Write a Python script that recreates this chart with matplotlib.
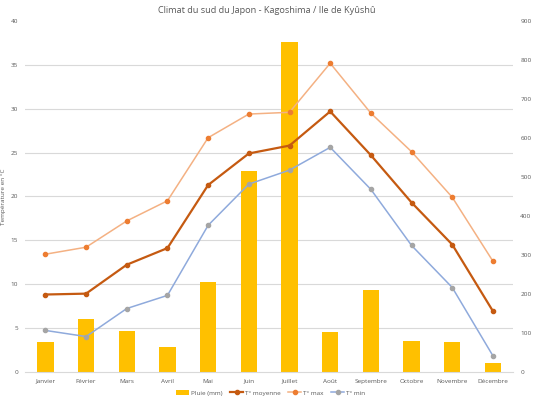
import matplotlib
matplotlib.use("Agg")
import matplotlib.pyplot as plt
import numpy as np

plt.rcParams['font.family'] = ['Open Sans', 'DejaVu Sans']

months = ["Janvier", "Février", "Mars", "Avril", "Mai", "Juin", "Juillet",
          "Août", "Septembre", "Octobre", "Novembre", "Décembre"]
rain = [76, 135, 104, 63, 230, 515, 846, 102, 210, 79, 76, 21]
t_moy = [8.8, 8.9, 12.2, 14.1, 21.3, 24.9, 25.8, 29.7, 24.7, 19.3, 14.5, 6.9]
t_max = [13.4, 14.2, 17.2, 19.5, 26.7, 29.4, 29.6, 35.2, 29.5, 25.1, 19.9, 12.6]
t_min = [4.7, 4.0, 7.2, 8.7, 16.7, 21.4, 23.0, 25.6, 20.8, 14.4, 9.6, 1.8]

fig = plt.figure(figsize=(5.33, 4.0), dpi=100)
ax = fig.add_axes([0.047, 0.071, 0.916, 0.876])
ax2 = ax.twinx()

x = np.arange(len(months))
ax2.bar(x, rain, width=0.4, color="#FFC000", label="Pluie (mm)", zorder=2)
ax2.set_ylim(0, 900)
ax2.set_yticks(np.arange(0, 901, 100))
# gridlines aligned with the left (temperature) axis, drawn beneath the bars
ax2.set_yticks(np.arange(0, 41, 5) * 900 / 40, minor=True)
ax2.yaxis.grid(True, which="minor", color="#D9D9D9", lw=0.8, zorder=0)
ax2.yaxis.grid(False, which="major")
ax2.set_axisbelow(True)

ax.set_zorder(ax2.get_zorder() + 1)
ax.patch.set_visible(False)

l1, = ax.plot(x, t_moy, color="#C55A11", lw=1.6, marker="o", ms=3, label="T° moyenne")
l2, = ax.plot(x, t_max, color="#F4B183", lw=1.1, marker="o", ms=3,
              mfc="#ED7D31", mec="#ED7D31", label="T° max")
l3, = ax.plot(x, t_min, color="#8FAADC", lw=1.1, marker="o", ms=3,
              mfc="#A5A5A5", mec="#A5A5A5", label="T° min")

ax.set_ylim(0, 40)
ax.set_yticks(np.arange(0, 41, 5))
ax.set_xlim(-0.5, 11.5)
ax.set_xticks(x)
ax.set_xticklabels(months)

for a in (ax, ax2):
    for s in a.spines.values():
        s.set_visible(False)
    a.tick_params(which="both", length=0, labelsize=4.6, colors="#595959", pad=5)

ax.spines['bottom'].set_visible(True)
ax.spines['bottom'].set_color("#D9D9D9")
ax.spines['bottom'].set_linewidth(0.8)

ax.set_ylabel("Température en °C", fontsize=4.6, color="#595959", labelpad=3)
fig.suptitle("Climat du sud du Japon - Kagoshima / Ile de Kyûshû",
             fontsize=6.6, color="#595959", y=0.985)

bars = ax2.containers[0]
fig.legend([bars, l1, l2, l3], ["Pluie (mm)", "T° moyenne", "T° max", "T° min"],
           loc="center", bbox_to_anchor=(0.508, 0.018), ncol=4, frameon=False,
           fontsize=4.6, labelcolor="#595959", handlelength=2.0, columnspacing=1.2,
           handletextpad=0.3)

fig.savefig("out.png", dpi=100)
